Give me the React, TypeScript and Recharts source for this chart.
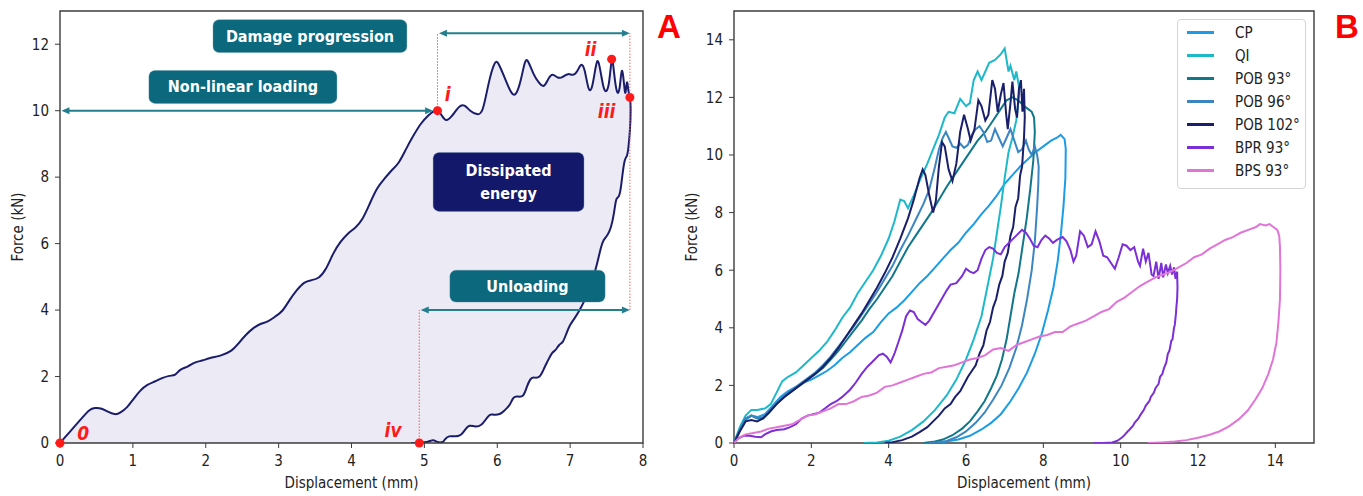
import React from 'react';
import {
  ComposedChart,
  Area,
  Line,
  XAxis,
  YAxis,
  ReferenceArea,
  ReferenceLine,
  ReferenceDot,
  Legend,
} from 'recharts';

type Pt = [number, number];
const toXY = (pts: Pt[]) => pts.map(([x, y]) => ({ x, y }));

const FONT = '"DejaVu Sans Condensed", "Liberation Sans Narrow", Roboto, sans-serif';
const AXIS = '#3c3c3c';
const RED = '#ff1a1a';
const ARROW = '#237e8e';
const TEAL_BOX = '#0b687d';
const NAVY_BOX = '#14186a';

// ---------- panel A : single loop ----------
const loadingA: Pt[] = [
  [0, 0], [0.1, 0.25], [0.2, 0.5], [0.3, 0.75], [0.4, 0.98], [0.48, 1.05], [0.56, 1.04], [0.65, 0.95],
  [0.75, 0.87], [0.83, 0.92], [0.92, 1.08], [1.0, 1.3], [1.1, 1.57], [1.2, 1.75], [1.3, 1.85], [1.4, 1.95],
  [1.5, 2.02], [1.58, 2.06], [1.65, 2.2], [1.75, 2.3], [1.85, 2.42], [1.95, 2.48], [2.05, 2.55], [2.2, 2.63],
  [2.35, 2.78], [2.45, 3.0], [2.55, 3.25], [2.65, 3.45], [2.75, 3.58], [2.85, 3.66], [2.95, 3.8], [3.05, 3.98],
  [3.15, 4.3], [3.25, 4.6], [3.35, 4.82], [3.45, 4.9], [3.55, 4.98], [3.65, 5.25], [3.75, 5.7], [3.85, 6.05],
  [3.95, 6.3], [4.05, 6.48], [4.15, 6.75], [4.25, 7.2], [4.35, 7.65], [4.45, 7.95], [4.55, 8.2], [4.65, 8.45],
  [4.75, 8.85], [4.85, 9.25], [4.95, 9.6], [5.05, 9.85], [5.12, 9.97], [5.18, 10.0], [5.24, 9.85], [5.3, 9.72],
  [5.38, 9.85], [5.47, 10.1], [5.55, 10.15], [5.63, 10.0], [5.72, 9.9], [5.8, 10.05], [5.88, 10.8], [5.96, 11.4],
  [6.02, 11.4], [6.1, 11.0], [6.18, 10.6], [6.25, 10.5], [6.32, 10.9], [6.38, 11.45], [6.43, 11.45], [6.5, 11.1],
  [6.57, 10.85], [6.64, 10.75], [6.7, 10.95], [6.76, 11.08], [6.83, 11.0], [6.9, 11.02], [6.97, 11.1], [7.04, 11.08],
  [7.1, 11.2], [7.15, 11.38], [7.2, 11.2], [7.25, 10.7], [7.3, 10.72], [7.35, 11.3], [7.39, 11.45], [7.44, 10.9],
  [7.48, 10.6], [7.53, 10.8], [7.57, 11.5], [7.6, 11.2], [7.64, 10.6], [7.68, 10.7], [7.71, 11.2], [7.74, 10.8],
  [7.76, 10.55], [7.78, 10.85], [7.8, 10.6], [7.82, 10.4],
];
const unloadingA: Pt[] = [
  [7.83, 10.0], [7.82, 9.4], [7.8, 8.9], [7.78, 8.65], [7.75, 8.5], [7.72, 8.1], [7.69, 7.6], [7.66, 7.4],
  [7.63, 7.3], [7.6, 6.9], [7.56, 6.5], [7.51, 6.25], [7.46, 6.1], [7.42, 5.85], [7.37, 5.4], [7.32, 5.0],
  [7.26, 4.6], [7.2, 4.3], [7.13, 4.0], [7.06, 3.75], [7.0, 3.55], [6.95, 3.3], [6.9, 3.05], [6.85, 2.95],
  [6.8, 2.8], [6.75, 2.7], [6.7, 2.5], [6.65, 2.28], [6.58, 2.0], [6.5, 1.97], [6.45, 1.9], [6.4, 1.65],
  [6.35, 1.42], [6.28, 1.4], [6.22, 1.35], [6.17, 1.15], [6.1, 0.98], [6.04, 0.88], [5.96, 0.85], [5.9, 0.85],
  [5.84, 0.7], [5.78, 0.55], [5.7, 0.5], [5.62, 0.52], [5.56, 0.4], [5.5, 0.25], [5.42, 0.2], [5.34, 0.2],
  [5.28, 0.1], [5.25, 0.03], [5.18, 0.03], [5.12, 0.08], [5.05, 0.04], [4.98, 0.02], [4.93, 0], [4.82, 0],
];
const loopA = toXY([...loadingA, ...unloadingA]);

const xTicksA = [0, 1, 2, 3, 4, 5, 6, 7, 8];
const yTicksA = [0, 2, 4, 6, 8, 10, 12];

const keyPointsA = [
  { id: '0', x: 0, y: 0, tx: 0.32, ty: 0.3 },
  { id: 'i', x: 5.18, y: 10.0, tx: 5.32, ty: 10.51 },
  { id: 'ii', x: 7.57, y: 11.55, tx: 7.28, ty: 11.87 },
  { id: 'iii', x: 7.82, y: 10.4, tx: 7.5, ty: 10.0 },
  { id: 'iv', x: 4.93, y: 0, tx: 4.57, ty: 0.39 },
];

const boxesA = [
  { lines: ['Damage progression'], x1: 2.1, x2: 4.76, y1: 11.75, y2: 12.74, fill: TEAL_BOX },
  { lines: ['Non-linear loading'], x1: 1.22, x2: 3.8, y1: 10.22, y2: 11.21, fill: TEAL_BOX },
  { lines: ['Dissipated', 'energy'], x1: 5.12, x2: 7.19, y1: 6.97, y2: 8.74, fill: NAVY_BOX },
  { lines: ['Unloading'], x1: 5.35, x2: 7.48, y1: 4.24, y2: 5.2, fill: TEAL_BOX },
];

const arrowsA = [
  { x1: 0.02, x2: 5.12, y: 10.0 },
  { x1: 5.2, x2: 7.82, y: 12.33 },
  { x1: 4.95, x2: 7.82, y: 4.0 },
];

const guidesA = [
  { x: 5.18, y1: 10.0, y2: 12.33 },
  { x: 7.82, y1: 4.0, y2: 12.33 },
  { x: 4.93, y1: 0, y2: 4.0 },
];

// ---------- panel B : seven specimens ----------
const cpCurve: Pt[] = [
  [0, 0], [0.15, 0.45], [0.3, 0.8], [0.45, 0.95], [0.6, 0.9], [0.8, 1.0], [1.0, 1.3], [1.2, 1.6], [1.4, 1.8],
  [1.6, 1.95], [1.8, 2.1], [2.0, 2.2], [2.2, 2.35], [2.4, 2.5], [2.6, 2.7], [2.8, 2.95], [3.0, 3.15], [3.2, 3.4],
  [3.4, 3.65], [3.6, 3.85], [3.8, 4.2], [4.0, 4.5], [4.2, 4.7], [4.4, 4.95], [4.6, 5.25], [4.8, 5.55], [5.0, 5.8],
  [5.2, 6.1], [5.4, 6.4], [5.6, 6.7], [5.8, 6.95], [6.0, 7.3], [6.2, 7.6], [6.4, 7.95], [6.6, 8.25], [6.8, 8.6],
  [7.0, 9.0], [7.2, 9.3], [7.4, 9.6], [7.6, 9.85], [7.8, 10.1], [8.0, 10.3], [8.2, 10.5], [8.35, 10.6], [8.45, 10.7],
  [8.55, 10.55], [8.58, 10.2], [8.57, 9.2], [8.52, 8.2], [8.45, 7.2], [8.37, 6.3], [8.26, 5.4], [8.12, 4.6],
  [7.96, 3.8], [7.78, 3.1], [7.58, 2.45], [7.36, 1.9], [7.15, 1.45], [6.9, 1.0], [6.65, 0.7], [6.4, 0.47],
  [6.1, 0.25], [5.8, 0.12], [5.45, 0.04], [5.0, 0],
];
const qiCurve: Pt[] = [
  [0, 0], [0.15, 0.55], [0.3, 0.95], [0.45, 1.15], [0.6, 1.15], [0.8, 1.2], [0.95, 1.35], [1.1, 1.75], [1.25, 2.15],
  [1.4, 2.3], [1.6, 2.45], [1.8, 2.7], [2.0, 2.95], [2.2, 3.2], [2.4, 3.5], [2.6, 3.9], [2.8, 4.35], [3.0, 4.7],
  [3.2, 5.2], [3.4, 5.6], [3.6, 6.0], [3.8, 6.5], [4.0, 7.1], [4.15, 7.7], [4.3, 8.45], [4.4, 8.4], [4.5, 8.15],
  [4.65, 8.6], [4.8, 9.1], [5.0, 9.7], [5.15, 10.2], [5.3, 10.7], [5.45, 11.3], [5.55, 11.5], [5.7, 11.45],
  [5.85, 11.95], [6.0, 11.7], [6.1, 11.8], [6.2, 12.6], [6.3, 12.9], [6.4, 12.6], [6.5, 12.9], [6.6, 13.2],
  [6.75, 13.3], [6.9, 13.5], [7.0, 13.7], [7.05, 13.3], [7.1, 12.9], [7.15, 13.1], [7.25, 12.6], [7.3, 12.9],
  [7.38, 12.3], [7.35, 11.8], [7.3, 11.2], [7.2, 10.6], [7.1, 10.1], [7.0, 9.2], [6.9, 8.2], [6.8, 7.3],
  [6.7, 6.4], [6.55, 5.4], [6.4, 4.4], [6.2, 3.6], [6.0, 2.9], [5.75, 2.2], [5.5, 1.65], [5.2, 1.15], [4.9, 0.75],
  [4.6, 0.45], [4.3, 0.22], [4.0, 0.08], [3.7, 0.02], [3.35, 0],
];
const pob93Curve: Pt[] = [
  [0, 0], [0.15, 0.45], [0.3, 0.85], [0.45, 0.95], [0.6, 0.85], [0.75, 0.85], [0.9, 1.05], [1.1, 1.35], [1.3, 1.6],
  [1.5, 1.8], [1.7, 2.0], [1.9, 2.2], [2.1, 2.4], [2.3, 2.6], [2.5, 2.9], [2.7, 3.2], [2.9, 3.55], [3.1, 3.9],
  [3.3, 4.25], [3.5, 4.65], [3.7, 5.0], [3.9, 5.4], [4.1, 5.8], [4.3, 6.3], [4.5, 6.8], [4.7, 7.2], [4.9, 7.6],
  [5.1, 8.0], [5.3, 8.45], [5.5, 8.9], [5.7, 9.3], [5.9, 9.7], [6.1, 10.1], [6.3, 10.5], [6.5, 10.8], [6.7, 11.2],
  [6.9, 11.6], [7.05, 11.9], [7.2, 12.0], [7.35, 11.9], [7.5, 11.7], [7.6, 11.6], [7.7, 11.5], [7.76, 11.3],
  [7.78, 10.8], [7.74, 9.8], [7.66, 8.8], [7.57, 7.8], [7.46, 6.8], [7.36, 5.9], [7.25, 5.2], [7.15, 4.4],
  [7.05, 3.6], [6.93, 2.9], [6.8, 2.35], [6.65, 1.9], [6.48, 1.45], [6.3, 1.1], [6.1, 0.75], [5.9, 0.5],
  [5.65, 0.27], [5.4, 0.12], [5.15, 0.04], [4.9, 0],
];
const pob96Curve: Pt[] = [
  [0, 0], [0.15, 0.45], [0.3, 0.85], [0.45, 0.95], [0.6, 0.88], [0.75, 0.9], [0.9, 1.1], [1.1, 1.4], [1.3, 1.65],
  [1.5, 1.85], [1.7, 2.05], [1.9, 2.25], [2.1, 2.45], [2.3, 2.7], [2.5, 3.0], [2.7, 3.35], [2.9, 3.7], [3.1, 4.05],
  [3.3, 4.45], [3.5, 4.85], [3.7, 5.25], [3.9, 5.7], [4.1, 6.15], [4.3, 6.7], [4.5, 7.2], [4.7, 7.75], [4.9, 8.3],
  [5.05, 8.8], [5.2, 9.6], [5.3, 10.2], [5.4, 10.6], [5.48, 10.8], [5.55, 10.6], [5.65, 10.3], [5.75, 10.25],
  [5.85, 10.4], [5.95, 10.25], [6.05, 10.35], [6.15, 10.7], [6.25, 10.9], [6.35, 11.0], [6.45, 10.8], [6.55, 10.45],
  [6.65, 10.5], [6.75, 10.9], [6.85, 10.6], [6.95, 10.3], [7.05, 10.6], [7.15, 10.9], [7.25, 10.5], [7.35, 10.1],
  [7.45, 10.2], [7.55, 10.5], [7.62, 10.2], [7.7, 10.0], [7.78, 10.3], [7.84, 10.0], [7.88, 9.6], [7.87, 9.0],
  [7.84, 8.2], [7.78, 7.0], [7.7, 6.0], [7.58, 5.0], [7.45, 4.1], [7.3, 3.3], [7.12, 2.6], [6.92, 2.0], [6.7, 1.5],
  [6.48, 1.05], [6.25, 0.7], [6.0, 0.4], [5.75, 0.2], [5.5, 0.07], [5.25, 0.02], [5.05, 0],
];
const pob102Curve: Pt[] = [
  [0, 0], [0.15, 0.4], [0.3, 0.75], [0.45, 0.8], [0.6, 0.75], [0.75, 0.85], [0.9, 1.05], [1.1, 1.35], [1.3, 1.6],
  [1.5, 1.8], [1.7, 2.0], [1.9, 2.2], [2.1, 2.4], [2.3, 2.65], [2.5, 2.95], [2.7, 3.3], [2.9, 3.7], [3.1, 4.1],
  [3.3, 4.5], [3.5, 4.95], [3.7, 5.4], [3.9, 5.9], [4.1, 6.45], [4.3, 7.1], [4.5, 7.8], [4.65, 8.45], [4.8, 9.2],
  [4.88, 9.5], [4.95, 9.3], [5.05, 8.6], [5.15, 8.0], [5.22, 8.4], [5.3, 9.6], [5.38, 10.45], [5.45, 10.3],
  [5.55, 9.5], [5.65, 9.1], [5.75, 9.7], [5.85, 10.8], [5.95, 11.4], [6.05, 10.9], [6.12, 10.5], [6.22, 10.9],
  [6.32, 11.9], [6.4, 11.7], [6.5, 11.2], [6.58, 11.4], [6.68, 12.6], [6.75, 12.3], [6.82, 11.5], [6.9, 12.1],
  [6.97, 12.5], [7.04, 11.4], [7.08, 10.9], [7.15, 11.8], [7.2, 12.55], [7.27, 11.6], [7.32, 11.3], [7.37, 12.3],
  [7.42, 12.6], [7.46, 11.5], [7.5, 12.3], [7.52, 11.3], [7.5, 10.6], [7.45, 9.6], [7.4, 9.3], [7.35, 8.5],
  [7.28, 8.2], [7.22, 7.5], [7.15, 7.2], [7.08, 6.6], [7.0, 6.3], [6.94, 5.8], [6.86, 5.5], [6.78, 5.0],
  [6.7, 4.7], [6.62, 4.2], [6.53, 3.9], [6.45, 3.4], [6.35, 3.1], [6.25, 2.7], [6.15, 2.5], [6.05, 2.3],
  [5.95, 2.05], [5.85, 1.8], [5.72, 1.6], [5.6, 1.35], [5.45, 1.2], [5.3, 0.95], [5.15, 0.75], [5.0, 0.55],
  [4.8, 0.38], [4.6, 0.22], [4.35, 0.1], [4.1, 0.03], [3.9, 0],
];
const bpr93Curve: Pt[] = [
  [0, 0], [0.1, 0.15], [0.25, 0.25], [0.4, 0.25], [0.55, 0.22], [0.7, 0.2], [0.8, 0.3], [0.95, 0.4], [1.1, 0.45],
  [1.3, 0.48], [1.45, 0.55], [1.6, 0.65], [1.75, 0.85], [1.9, 0.95], [2.05, 1.0], [2.2, 1.05], [2.35, 1.2],
  [2.5, 1.35], [2.65, 1.45], [2.8, 1.6], [3.0, 1.85], [3.15, 2.1], [3.3, 2.4], [3.45, 2.65], [3.6, 2.85],
  [3.75, 3.05], [3.85, 3.1], [3.95, 3.0], [4.05, 2.8], [4.15, 3.1], [4.25, 3.5], [4.35, 3.9], [4.45, 4.4],
  [4.55, 4.6], [4.65, 4.55], [4.75, 4.3], [4.85, 4.2], [4.95, 4.1], [5.05, 4.25], [5.2, 4.6], [5.35, 4.95],
  [5.5, 5.3], [5.6, 5.5], [5.75, 5.55], [5.9, 5.8], [6.0, 6.05], [6.1, 5.95], [6.2, 5.9], [6.3, 6.0], [6.4, 6.4],
  [6.5, 6.7], [6.6, 6.8], [6.7, 6.75], [6.8, 6.6], [6.9, 6.55], [7.0, 6.8], [7.15, 7.0], [7.3, 7.2], [7.45, 7.4],
  [7.55, 7.3], [7.65, 7.1], [7.75, 6.85], [7.85, 6.8], [7.95, 7.05], [8.05, 7.2], [8.15, 7.1], [8.25, 6.95],
  [8.35, 7.05], [8.5, 7.15], [8.6, 7.0], [8.7, 6.7], [8.78, 6.3], [8.85, 6.5], [8.95, 7.35], [9.05, 7.2],
  [9.15, 6.8], [9.25, 6.9], [9.35, 7.35], [9.45, 7.0], [9.55, 6.5], [9.65, 6.45], [9.75, 6.25], [9.85, 6.05],
  [9.95, 6.45], [10.05, 6.9], [10.15, 6.85], [10.25, 6.7], [10.35, 6.8], [10.45, 6.3], [10.5, 6.15], [10.58, 6.75],
  [10.65, 6.3], [10.72, 6.6], [10.8, 5.85], [10.85, 5.8], [10.92, 6.3], [10.98, 5.7], [11.05, 6.25], [11.1, 5.75],
  [11.17, 6.2], [11.22, 5.9], [11.28, 6.15], [11.33, 5.85], [11.38, 6.1], [11.42, 5.7], [11.46, 5.95], [11.47, 5.4],
  [11.46, 5.0], [11.44, 4.7], [11.43, 4.5], [11.4, 4.1], [11.38, 4.0], [11.34, 3.6], [11.31, 3.55], [11.26, 3.2],
  [11.22, 3.1], [11.18, 2.8], [11.12, 2.6], [11.08, 2.4], [11.02, 2.3], [10.98, 2.05], [10.9, 1.9], [10.86, 1.75],
  [10.78, 1.6], [10.74, 1.45], [10.65, 1.3], [10.6, 1.15], [10.5, 0.95], [10.46, 0.85], [10.36, 0.7], [10.32, 0.6],
  [10.22, 0.45], [10.18, 0.4], [10.08, 0.25], [10.04, 0.2], [9.92, 0.08], [9.78, 0.02], [9.55, 0], [9.3, 0],
];
const bps93Curve: Pt[] = [
  [0, 0], [0.15, 0.2], [0.3, 0.3], [0.5, 0.35], [0.7, 0.4], [0.9, 0.5], [1.1, 0.55], [1.3, 0.6], [1.5, 0.65],
  [1.7, 0.8], [1.9, 0.95], [2.1, 1.0], [2.3, 1.1], [2.5, 1.2], [2.7, 1.35], [2.9, 1.35], [3.1, 1.45], [3.3, 1.6],
  [3.5, 1.65], [3.7, 1.75], [3.9, 1.95], [4.1, 2.0], [4.3, 2.1], [4.5, 2.2], [4.7, 2.3], [4.9, 2.4], [5.1, 2.45],
  [5.3, 2.6], [5.5, 2.65], [5.7, 2.7], [5.9, 2.8], [6.1, 2.9], [6.3, 2.95], [6.5, 3.05], [6.7, 3.25], [6.9, 3.3],
  [7.1, 3.2], [7.3, 3.4], [7.5, 3.5], [7.7, 3.6], [7.9, 3.7], [8.1, 3.75], [8.3, 3.85], [8.5, 3.85], [8.7, 4.05],
  [8.9, 4.15], [9.1, 4.25], [9.3, 4.4], [9.5, 4.55], [9.7, 4.65], [9.9, 4.9], [10.1, 5.05], [10.3, 5.25],
  [10.5, 5.45], [10.7, 5.6], [10.9, 5.75], [11.1, 5.85], [11.3, 5.95], [11.5, 6.1], [11.7, 6.25], [11.9, 6.45],
  [12.1, 6.55], [12.3, 6.75], [12.5, 6.9], [12.7, 7.05], [12.9, 7.15], [13.1, 7.3], [13.3, 7.4], [13.5, 7.5],
  [13.6, 7.6], [13.75, 7.55], [13.85, 7.6], [13.95, 7.5], [14.05, 7.4], [14.1, 7.2], [14.12, 6.8], [14.13, 6.0],
  [14.12, 5.0], [14.08, 4.2], [14.03, 3.5], [13.94, 2.9], [13.82, 2.4], [13.66, 1.9], [13.48, 1.5], [13.28, 1.12],
  [13.05, 0.82], [12.8, 0.58], [12.55, 0.4], [12.28, 0.28], [12.0, 0.18], [11.7, 0.1], [11.4, 0.05], [11.05, 0.02],
  [10.7, 0],
];

const seriesB = [
  { name: 'CP', color: '#1a9de6', data: toXY(cpCurve) },
  { name: 'QI', color: '#1db9cb', data: toXY(qiCurve) },
  { name: 'POB 93°', color: '#12778a', data: toXY(pob93Curve) },
  { name: 'POB 96°', color: '#3b86c2', data: toXY(pob96Curve) },
  { name: 'POB 102°', color: '#1a1f6b', data: toXY(pob102Curve) },
  { name: 'BPR 93°', color: '#7c2fd6', data: toXY(bpr93Curve) },
  { name: 'BPS 93°', color: '#e274d8', data: toXY(bps93Curve) },
];
const legendOrder = seriesB.map((s) => s.name);

const xTicksB = [0, 2, 4, 6, 8, 10, 12, 14];
const yTicksB = [0, 2, 4, 6, 8, 10, 12, 14];

// ---------- shared bits ----------
const tickStyle = { fontSize: 15, fill: '#222', fontFamily: FONT };

const xTitle = (props: any) => {
  const vb = props.viewBox || { x: 0, y: 0, width: 0 };
  return (
    <text x={vb.x + vb.width / 2} y={vb.y + 40} textAnchor="middle" dominantBaseline="central"
      style={{ fontSize: 15, fill: '#222', fontFamily: FONT }}>
      Displacement (mm)
    </text>
  );
};

const yTitle = (dx: number) => (props: any) => {
  const vb = props.viewBox || { x: 0, y: 0, height: 0 };
  const cx = vb.x + dx;
  const cy = vb.y + vb.height / 2;
  return (
    <text x={cx} y={cy} transform={`rotate(-90 ${cx} ${cy})`} textAnchor="middle" dominantBaseline="central"
      style={{ fontSize: 15, fill: '#222', fontFamily: FONT }}>
      Force (kN)
    </text>
  );
};

const arrowShape = (props: any) => {
  const { x1, y1, x2, y2 } = props;
  const h = 8;
  const w = 3.5;
  return (
    <g>
      <line x1={x1 + 4} y1={y1} x2={x2 - 4} y2={y2} stroke={ARROW} strokeWidth={2} />
      <polygon points={`${x1},${y1} ${x1 + h},${y1 - w} ${x1 + h},${y1 + w}`} fill={ARROW} />
      <polygon points={`${x2},${y2} ${x2 - h},${y2 - w} ${x2 - h},${y2 + w}`} fill={ARROW} />
    </g>
  );
};

const boxShape = (lines: string[], fill: string) => (props: any) => {
  const { x, y, width, height } = props;
  const cx = x + width / 2;
  const cy = y + height / 2;
  const lh = 23;
  const start = cy - ((lines.length - 1) * lh) / 2;
  return (
    <g>
      <rect x={x} y={y} width={width} height={height} rx={6} ry={6} fill={fill} stroke="#5d8fa0" strokeOpacity={0.35} />
      {lines.map((t, i) => (
        <text key={t} x={cx} y={start + i * lh} textAnchor="middle" dominantBaseline="central"
          style={{ fontSize: 16, fontWeight: 'bold', fill: '#fff', fontFamily: FONT }}>
          {t}
        </text>
      ))}
    </g>
  );
};

const redLabel = (text: string) => (props: any) => (
  <text x={props.cx} y={props.cy} textAnchor="middle" dominantBaseline="central"
    style={{ fontSize: 19, fontWeight: 'bold', fontStyle: 'italic', fill: RED, fontFamily: FONT }}>
    {text}
  </text>
);

const LegendBox = (props: any) => {
  const payload = [...(props.payload || [])].sort(
    (a: any, b: any) => legendOrder.indexOf(a.value) - legendOrder.indexOf(b.value),
  );
  return (
    <div style={{
      width: 129, height: 170, boxSizing: 'border-box', border: '1px solid #d4d4d4', borderRadius: 4,
      background: 'rgba(255,255,255,0.85)', paddingTop: 1, fontFamily: FONT,
    }}>
      {payload.map((p: any) => (
        <div key={p.value} style={{ display: 'flex', alignItems: 'center', height: 23 }}>
          <span style={{ display: 'block', width: 27, height: 3, background: p.color, marginLeft: 9, marginRight: 21 }} />
          <span style={{ fontSize: 15, color: '#222', lineHeight: '16px' }}>{p.value}</span>
        </div>
      ))}
    </div>
  );
};

const panelLetter = (left: number): React.CSSProperties => ({
  position: 'absolute', left, top: 10, color: '#ff0000', fontFamily: '"Liberation Sans", Arial, sans-serif',
  fontWeight: 'bold', fontSize: 33, lineHeight: '33px',
});

export default function App() {
  return (
    <div style={{ position: 'absolute', left: 0, top: 0, width: 1363, height: 496, background: '#fff', overflow: 'hidden' }}>
      <div style={{ position: 'absolute', left: 0, top: 0 }}>
        <ComposedChart width={680} height={496} margin={{ top: 11, right: 37, bottom: 3, left: 0 }}>
          <XAxis type="number" dataKey="x" domain={[0, 8]} ticks={xTicksA} allowDataOverflow height={50}
            tick={tickStyle} tickLine={{ stroke: AXIS }} tickSize={5} tickMargin={7} axisLine={false} label={xTitle} />
          <YAxis type="number" domain={[0, 13]} ticks={yTicksA} allowDataOverflow width={60}
            tick={tickStyle} tickLine={{ stroke: AXIS }} tickSize={5} tickMargin={6} axisLine={false} label={yTitle(18)} />
          <Area data={loopA} dataKey="y" type="natural" baseValue={0} stroke="#1b1d6b" strokeWidth={2}
            fill="#ebeaf5" fillOpacity={1} dot={false} activeDot={false} isAnimationActive={false} />
          <ReferenceArea x1={0} x2={8} y1={0} y2={13} fill="none" stroke={AXIS} strokeWidth={1.4} ifOverflow="visible" />
          {guidesA.map((g, i) => (
            <ReferenceLine key={`g${i}`} segment={[{ x: g.x, y: g.y1 }, { x: g.x, y: g.y2 }]}
              stroke="#ff5a5a" strokeWidth={1} strokeDasharray="1.5 1.5" ifOverflow="visible" />
          ))}
          {arrowsA.map((a, i) => (
            <ReferenceLine key={`a${i}`} segment={[{ x: a.x1, y: a.y }, { x: a.x2, y: a.y }]}
              shape={arrowShape} ifOverflow="visible" />
          ))}
          {boxesA.map((b) => (
            <ReferenceArea key={b.lines.join(' ')} x1={b.x1} x2={b.x2} y1={b.y1} y2={b.y2}
              shape={boxShape(b.lines, b.fill)} ifOverflow="visible" />
          ))}
          {keyPointsA.map((p) => (
            <ReferenceDot key={`d${p.id}`} x={p.x} y={p.y} r={4.5} fill={RED} stroke="none" ifOverflow="visible" />
          ))}
          {keyPointsA.map((p) => (
            <ReferenceDot key={`t${p.id}`} x={p.tx} y={p.ty} r={1} shape={redLabel(p.id)} ifOverflow="visible" />
          ))}
        </ComposedChart>
      </div>

      <div style={{ position: 'absolute', left: 680, top: 0 }}>
        <ComposedChart width={683} height={496} margin={{ top: 11, right: 49, bottom: 3, left: 0 }}>
          <XAxis type="number" dataKey="x" domain={[0, 15]} ticks={xTicksB} allowDataOverflow height={50}
            tick={tickStyle} tickLine={{ stroke: AXIS }} tickSize={5} tickMargin={7} axisLine={false} label={xTitle} />
          <YAxis type="number" domain={[0, 15]} ticks={yTicksB} allowDataOverflow width={54}
            tick={tickStyle} tickLine={{ stroke: AXIS }} tickSize={5} tickMargin={6} axisLine={false} label={yTitle(12)} />
          {seriesB.map((s) => (
            <Line key={s.name} data={s.data} dataKey="y" name={s.name} type="linear" stroke={s.color}
              strokeWidth={2} dot={false} activeDot={false} legendType="plainline" isAnimationActive={false} />
          ))}
          <ReferenceArea x1={0} x2={15} y1={0} y2={15} fill="none" stroke={AXIS} strokeWidth={1.4} ifOverflow="visible" />
          <Legend layout="vertical" align="center" verticalAlign="middle" content={LegendBox}
            wrapperStyle={{ top: 19, left: 497, width: 129, height: 170 }} />
        </ComposedChart>
      </div>

      <div style={panelLetter(657)}>A</div>
      <div style={panelLetter(1335)}>B</div>
    </div>
  );
}
